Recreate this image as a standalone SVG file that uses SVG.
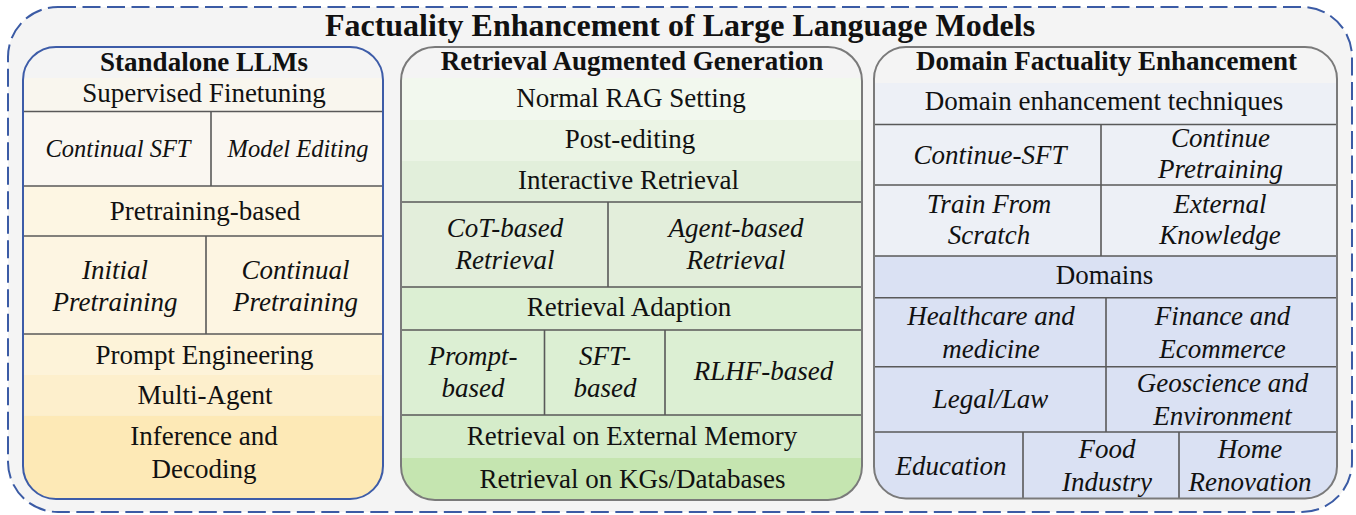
<svg xmlns="http://www.w3.org/2000/svg" width="1356" height="515" viewBox="0 0 1356 515">
<style>
.t{font-family:'Liberation Serif','DejaVu Serif',serif;fill:#111;text-anchor:middle}
.b{font-weight:bold;font-size:27px}
.ti{font-weight:bold;font-size:32px}
.r{font-size:27px}
.i{font-size:27px;font-style:italic}
.is{font-size:24.5px;font-style:italic}
.grid{stroke:#595959;stroke-width:1.6;fill:none}
.frameB{fill:none;stroke:#3d5ca8;stroke-width:2}
.frameG{fill:none;stroke:#7a7a7a;stroke-width:2}
</style>
<defs>
<clipPath id="c1"><rect x="23" y="47" width="360" height="452" rx="33"/></clipPath>
<clipPath id="c2"><rect x="401" y="47" width="461" height="453" rx="34"/></clipPath>
<clipPath id="c3"><rect x="874" y="47" width="463" height="451.5" rx="32"/></clipPath>
</defs>

<g id="outer">
<rect x="8" y="7" width="1344" height="505" rx="50" fill="#f4f4f4" stroke="#3b5ba5" stroke-width="2" stroke-dasharray="18 6.5"/>
<text class="t ti" x="680" y="36" font-family="Liberation Serif, serif">Factuality Enhancement of Large Language Models</text>
</g>

<g id="standalone-llms" font-family="Liberation Serif, serif">
<g clip-path="url(#c1)">
<rect x="23" y="47" width="360" height="31" fill="#f4f4f4"/>
<rect x="23" y="78" width="360" height="33.5" fill="#f9f6ee"/>
<rect x="23" y="111.5" width="360" height="74.5" fill="#faf7f1"/>
<rect x="23" y="186" width="360" height="50" fill="#fdf6e3"/>
<rect x="23" y="236" width="360" height="98" fill="#fdf5e2"/>
<rect x="23" y="334" width="360" height="41" fill="#fdf3d9"/>
<rect x="23" y="375" width="360" height="40.5" fill="#fdefcc"/>
<rect x="23" y="415.5" width="360" height="84" fill="#fde9b6"/>
<path class="grid" d="M23 111.5H383M23 186H383M23 236H383M23 334H383M211 111.5V186M206 236V334"/>
</g>
<rect class="frameB" x="23" y="47" width="360" height="452" rx="33"/>
<text class="t b" x="204" y="71">Standalone LLMs</text>
<text class="t r" x="204" y="102">Supervised Finetuning</text>
<text class="t is" x="118" y="157">Continual SFT</text>
<text class="t is" x="298" y="157">Model Editing</text>
<text class="t r" x="205" y="220">Pretraining-based</text>
<text class="t i" x="115" y="278.5">Initial</text>
<text class="t i" x="115" y="310.5">Pretraining</text>
<text class="t i" x="295.5" y="278.5">Continual</text>
<text class="t i" x="295.5" y="310.5">Pretraining</text>
<text class="t r" x="204.5" y="364">Prompt Engineering</text>
<text class="t r" x="205" y="404">Multi-Agent</text>
<text class="t r" x="204" y="445">Inference and</text>
<text class="t r" x="204" y="478">Decoding</text>
</g>

<g id="rag">
<g clip-path="url(#c2)">
<rect x="401" y="47" width="461" height="31" fill="#f4f4f4"/>
<rect x="401" y="78" width="461" height="42" fill="#f2f8ee"/>
<rect x="401" y="120" width="461" height="41" fill="#ebf4e5"/>
<rect x="401" y="161" width="461" height="41" fill="#e2efdb"/>
<rect x="401" y="202" width="461" height="85" fill="#e3eedb"/>
<rect x="401" y="287" width="461" height="128" fill="#dcefd3"/>
<rect x="401" y="415" width="461" height="43" fill="#d5ecca"/>
<rect x="401" y="458" width="461" height="42" fill="#c5e5b0"/>
<path class="grid" d="M401 202H862M401 287H862M401 330H862M401 415H862M608 202V287M544.5 330V415M665 330V415"/>
</g>
<rect class="frameG" x="401" y="47" width="461" height="453" rx="34"/>
<text class="t b" x="632" y="70">Retrieval Augmented Generation</text>
<text class="t r" x="631" y="107">Normal RAG Setting</text>
<text class="t r" x="630" y="148">Post-editing</text>
<text class="t r" x="628.5" y="188.5">Interactive Retrieval</text>
<text class="t i" x="505" y="237">CoT-based</text>
<text class="t i" x="505" y="268.5">Retrieval</text>
<text class="t i" x="736" y="237">Agent-based</text>
<text class="t i" x="736" y="268.5">Retrieval</text>
<text class="t r" x="629" y="316">Retrieval Adaption</text>
<text class="t i" x="473" y="365">Prompt-</text>
<text class="t i" x="473" y="397">based</text>
<text class="t i" x="605" y="365">SFT-</text>
<text class="t i" x="605" y="397">based</text>
<text class="t i" x="763.5" y="380">RLHF-based</text>
<text class="t r" x="632" y="445">Retrieval on External Memory</text>
<text class="t r" x="632.5" y="487.5">Retrieval on KGs/Databases</text>
</g>

<g id="domain">
<g clip-path="url(#c3)">
<rect x="874" y="47" width="463" height="36" fill="#f4f4f4"/>
<rect x="874" y="83" width="463" height="173" fill="#edf0f6"/>
<rect x="874" y="256" width="463" height="243" fill="#dae1f3"/>
<path class="grid" d="M874 124.5H1337M874 185H1337M874 256H1337M874 297.7H1337M874 366.7H1337M874 432H1337M1101 124.5V256M1106 297.7V432M1023 432V499M1179 432V499"/>
</g>
<rect class="frameG" x="874" y="47" width="463" height="451.5" rx="32"/>
<text class="t b" x="1106.5" y="70">Domain Factuality Enhancement</text>
<text class="t r" x="1104" y="109.5">Domain enhancement techniques</text>
<text class="t i" x="990" y="163.5">Continue-SFT</text>
<text class="t i" x="1220.5" y="146.7">Continue</text>
<text class="t i" x="1220.5" y="178.3">Pretraining</text>
<text class="t i" x="989" y="212.7">Train From</text>
<text class="t i" x="989" y="244.3">Scratch</text>
<text class="t i" x="1220" y="212.7">External</text>
<text class="t i" x="1220" y="244.3">Knowledge</text>
<text class="t r" x="1104.5" y="283.5">Domains</text>
<text class="t i" x="991" y="325">Healthcare and</text>
<text class="t i" x="991" y="357.7">medicine</text>
<text class="t i" x="1222.5" y="325">Finance and</text>
<text class="t i" x="1222.5" y="357.7">Ecommerce</text>
<text class="t i" x="990.5" y="408">Legal/Law</text>
<text class="t i" x="1222.5" y="392">Geoscience and</text>
<text class="t i" x="1222.5" y="424.5">Environment</text>
<text class="t i" x="951" y="475">Education</text>
<text class="t i" x="1107" y="457.5">Food</text>
<text class="t i" x="1107" y="490.7">Industry</text>
<text class="t i" x="1250" y="457.5">Home</text>
<text class="t i" x="1250" y="490.7">Renovation</text>
</g>

<g id="connectors"/>
</svg>
